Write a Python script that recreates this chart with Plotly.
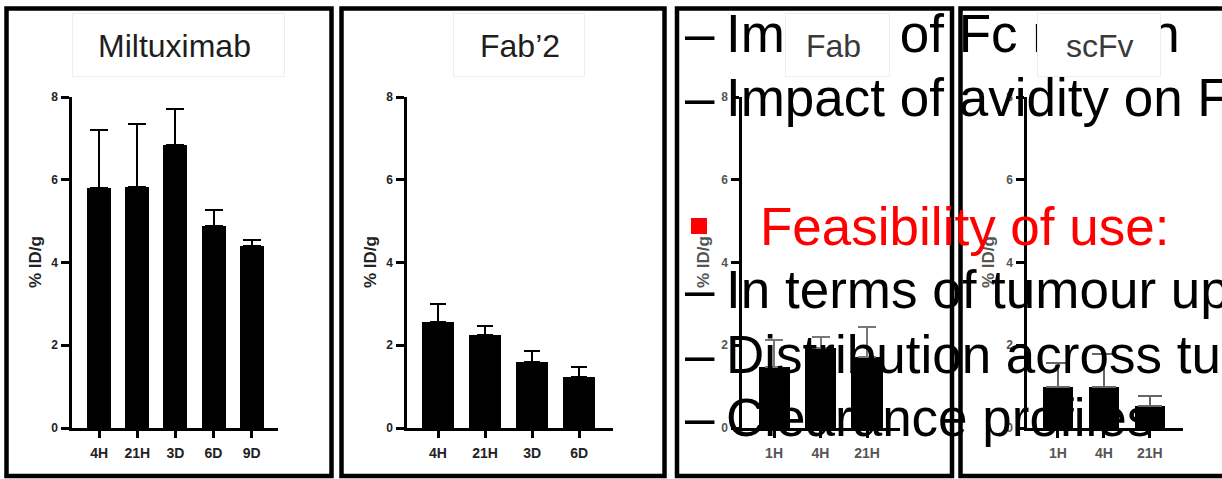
import plotly.graph_objects as go

W, H = 1222, 479

# ---------------- data ----------------
milt_cats = ["4H", "21H", "3D", "6D", "9D"]
milt_vals = [5.79, 5.83, 6.83, 4.88, 4.40]
milt_err = [1.42, 1.51, 0.89, 0.39, 0.14]

fab2_cats = ["4H", "21H", "3D", "6D"]
fab2_vals = [2.57, 2.25, 1.60, 1.24]
fab2_err = [0.43, 0.21, 0.26, 0.23]

fab_cats = ["1H", "4H", "21H"]
fab_vals = [1.48, 1.93, 1.72]
fab_err = [0.65, 0.26, 0.73]

scfv_cats = ["1H", "4H", "21H"]
scfv_vals = [1.00, 1.00, 0.53]
scfv_err = [0.58, 0.80, 0.24]

panel_titles = ["Miltuximab", "Fab\u20192", "Fab", "scFv"]
y_title = "% ID/g"
y_ticks = [0, 2, 4, 6, 8]

slide_lines = [
    "Impact of Fc region",
    "Impact of avidity on F",
    "Feasibility of use:",
    "In terms of tumour uptake",
    "Distribution across tumour",
    "Clearance profiles",
]

# ---------------- layout helpers ----------------
def px(x):
    return x / W

def py(y):
    return 1 - y / H

panels = [
    dict(cats=milt_cats, vals=milt_vals, err=milt_err, dom=(72, 278), rng=(-0.71, 4.69),
         bw=0.63, cap=9, ecol="#000000", lab="#222222", ylab_x=35),
    dict(cats=fab2_cats, vals=fab2_vals, err=fab2_err, dom=(407, 613), rng=(-0.66, 3.72),
         bw=0.68, cap=8, ecol="#000000", lab="#222222", ylab_x=370),
    dict(cats=fab_cats, vals=fab_vals, err=fab_err, dom=(742, 900), rng=(-0.69, 2.71),
         bw=0.67, cap=9, ecol="#777777", lab="#555555", ylab_x=703),
    dict(cats=scfv_cats, vals=scfv_vals, err=scfv_err, dom=(1027, 1183), rng=(-0.67, 2.72),
         bw=0.65, cap=12, ecol="#666666", lab="#555555", ylab_x=988),
]

fig = go.Figure()
ydom = [py(428), py(97)]
font_fam = "Arial, Liberation Sans, sans-serif"

for i, p in enumerate(panels, start=1):
    sfx = "" if i == 1 else str(i)
    fig.add_trace(go.Bar(
        x=p["cats"], y=p["vals"], width=p["bw"],
        marker=dict(color="black", line=dict(width=0)),
        error_y=dict(type="data", array=p["err"], arrayminus=[0] * len(p["err"]),
                     symmetric=False, thickness=2, width=p["cap"], color=p["ecol"]),
        xaxis="x" + sfx, yaxis="y" + sfx, showlegend=False,
    ))
    fig.layout["xaxis" + sfx] = dict(
        domain=[px(p["dom"][0]), px(p["dom"][1])], range=list(p["rng"]),
        anchor="y" + sfx, type="category", showgrid=False, zeroline=False,
        showline=True, linecolor="black", linewidth=2.5, automargin=False,
        ticks="outside", ticklen=7, tickwidth=2.5, tickcolor="black",
        tickfont=dict(family=font_fam, size=14, color=p["lab"], weight="bold"),
        ticklabelstandoff=3, fixedrange=True,
    )
    fig.layout["yaxis" + sfx] = dict(
        domain=ydom, range=[0, 8], anchor="x" + sfx, showgrid=False, zeroline=False,
        showline=True, linecolor="black", linewidth=2.5, automargin=False,
        ticks="outside", ticklen=8, tickwidth=2.5, tickcolor="black",
        tickvals=y_ticks, ticktext=[str(v) for v in y_ticks],
        tickfont=dict(family=font_fam, size=12, color=p["lab"], weight="bold"),
        ticklabelstandoff=1, fixedrange=True,
    )

shapes = []
# panel frames
frames = [(6.5, 331.5), (341.5, 664.5), (677, 952), (960.5, 1240)]
for x0, x1 in frames:
    shapes.append(dict(type="rect", xref="paper", yref="paper",
                       x0=px(x0), x1=px(x1), y0=py(476), y1=py(8.5),
                       line=dict(color="black", width=4.5), fillcolor="rgba(0,0,0,0)",
                       layer="above"))
# red square bullet
shapes.append(dict(type="rect", xref="paper", yref="paper",
                   x0=px(691), x1=px(707), y0=py(234), y1=py(218),
                   line=dict(width=0), fillcolor="#ff0000", layer="above"))

annotations = []
# y-axis titles
for p in panels:
    annotations.append(dict(
        text=y_title, xref="paper", yref="paper", x=px(p["ylab_x"]), y=py(262),
        xanchor="center", yanchor="middle", showarrow=False, textangle=-90,
        font=dict(family=font_fam, size=17, color=p["lab"], weight="bold"),
    ))

# slide text overlay
SZ = 53
line_centers = [33.6, 97.6, 226.6, 289.6, 354.6, 417.6]
for k, (txt, yc) in enumerate(zip(slide_lines, line_centers)):
    if k == 2:
        annotations.append(dict(
            text=txt, xref="paper", yref="paper", x=px(759), y=py(yc),
            xanchor="left", yanchor="middle", showarrow=False, borderpad=0,
            font=dict(family=font_fam, size=SZ, color="#ff0000"),
        ))
    else:
        annotations.append(dict(
            text="\u2013", xref="paper", yref="paper", x=px(700), y=py(yc),
            xanchor="center", yanchor="middle", showarrow=False, borderpad=0,
            font=dict(family=font_fam, size=SZ, color="black"),
        ))
        annotations.append(dict(
            text=txt, xref="paper", yref="paper", x=px(725), y=py(yc),
            xanchor="left", yanchor="middle", showarrow=False, borderpad=0,
            font=dict(family=font_fam, size=SZ, color="black"),
        ))

# title boxes (white, faint border) drawn above the slide text
boxes = [(72, 285), (453, 585), (785, 890), (1037, 1161)]
title_cx = [174, 520, 834, 1100]
title_col = ["#1e1e1e", "#1e1e1e", "#3a3a3a", "#3a3a3a"]
for (b0, b1), cx, col, t in zip(boxes, title_cx, title_col, panel_titles):
    annotations.append(dict(
        text=" ", xref="paper", yref="paper", x=px((b0 + b1) / 2), y=py(45),
        xanchor="center", yanchor="middle", showarrow=False,
        width=b1 - b0 - 2, height=62, bgcolor="white", bordercolor="#eeeeee",
        borderwidth=1, borderpad=0, font=dict(size=10),
    ))
    annotations.append(dict(
        text=t, xref="paper", yref="paper", x=px(cx), y=py(46),
        xanchor="center", yanchor="middle", showarrow=False, borderpad=0,
        font=dict(family=font_fam, size=32, color=col),
    ))

fig.update_layout(
    width=W, height=H, autosize=False, margin=dict(l=0, r=0, t=0, b=0, pad=0),
    paper_bgcolor="white", plot_bgcolor="rgba(0,0,0,0)",
    showlegend=False, shapes=shapes, annotations=annotations, bargap=0,
)

fig.write_html(
    "out.html",
    config={"displayModeBar": False, "responsive": False},
    post_script="document.body.style.margin='0';document.body.style.overflow='hidden';",
)
